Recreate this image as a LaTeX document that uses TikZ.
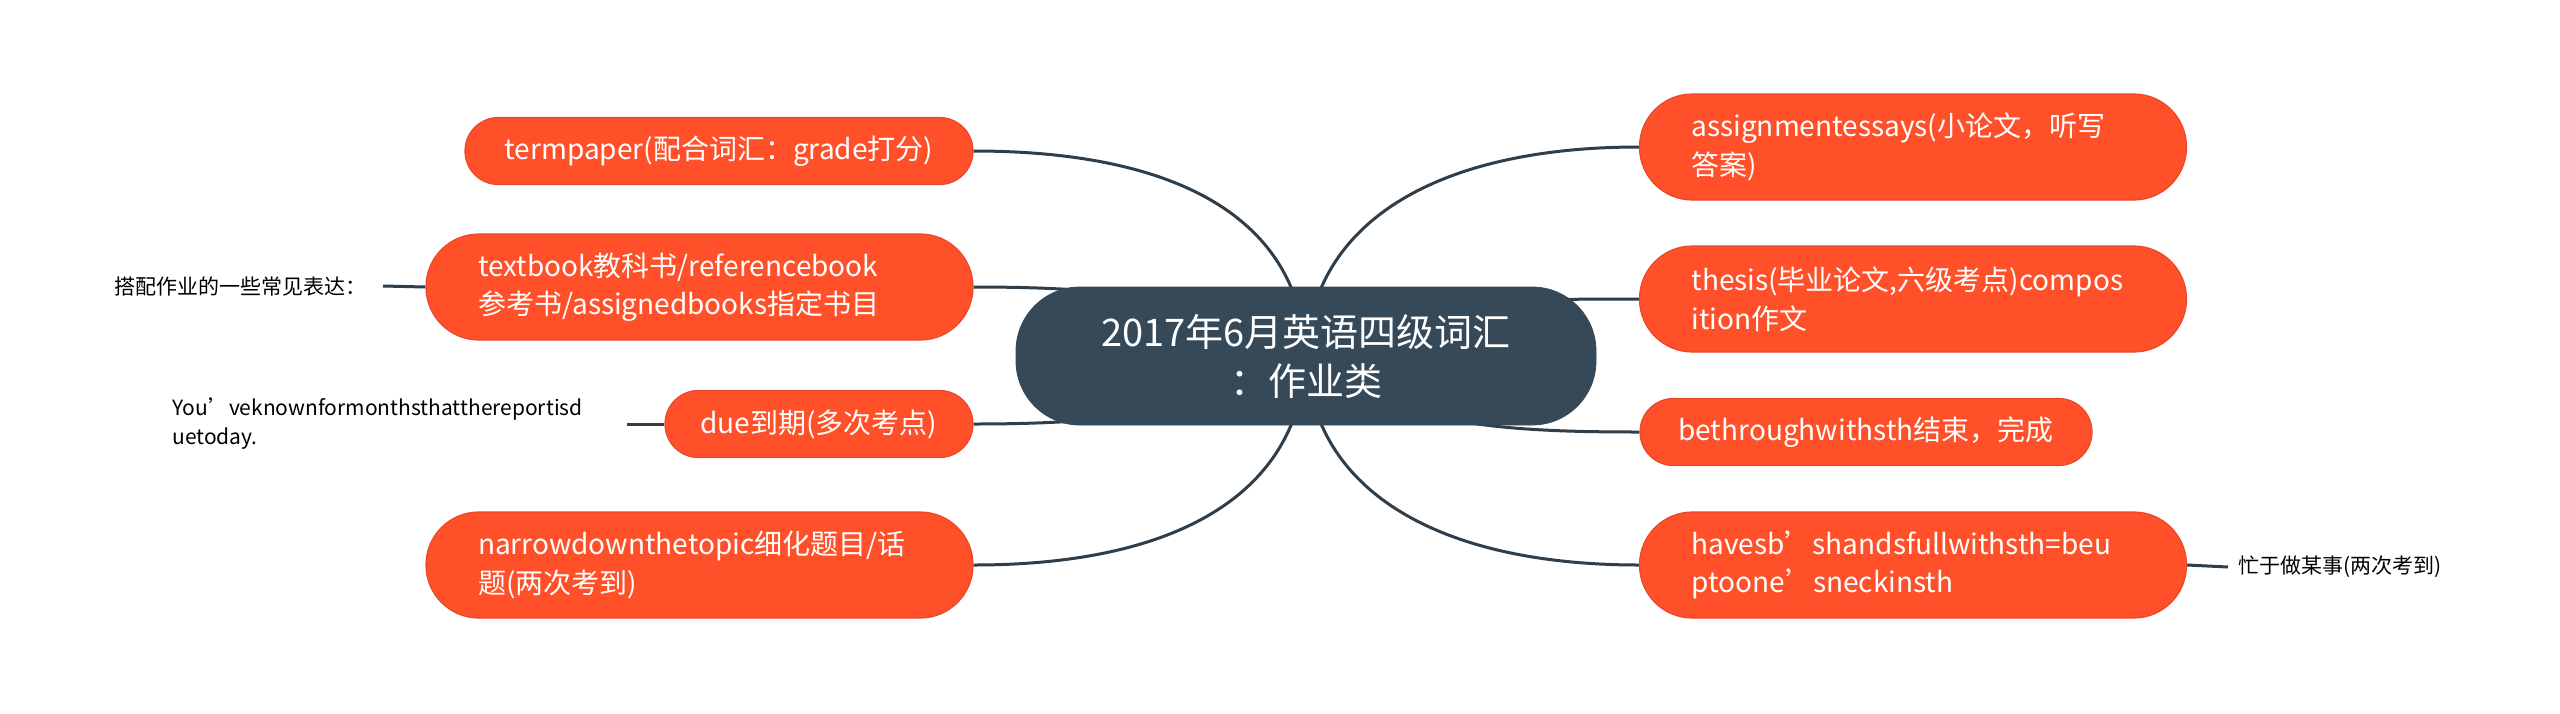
\documentclass[tikz,border=0pt]{standalone}
\usepackage{fontspec}
\setmainfont{Noto Sans CJK SC}
\definecolor{orng}{HTML}{FF5029}
\definecolor{orngdk}{HTML}{E8492B}
\definecolor{slate}{HTML}{364959}
\definecolor{linec}{HTML}{2E3E4B}
\pgfdeclarelayer{bg}
\pgfdeclarelayer{lines}
\pgfsetlayers{bg,lines,main}
\begin{document}
\begin{tikzpicture}[x=0.5pt,y=-0.5pt,
  sub/.style={draw=orngdk, line width=0.6pt, fill=orng, text=white,
    font=\fontsize{14}{19.25}\selectfont, rounded corners=16.7pt,
    minimum height=33.5pt, inner ysep=0pt, inner xsep=0pt},
  subtwo/.style={sub, rounded corners=26.4pt, minimum height=53pt,
    text width=221.5pt, inner xsep=26pt, align=left},
  central/.style={fill=slate, draw=slate, text=white,
    font=\fontsize{19}{24.5}\selectfont, rounded corners=32pt,
    minimum width=290pt, minimum height=69pt, align=center, inner sep=0pt},
  lbl/.style={text=black, font=\fontsize{10.5}{14.5}\selectfont, inner ysep=2pt},
  conn/.style={draw=linec, line width=1.5pt}]
\begin{pgfonlayer}{bg}
\fill[white] (0,0) rectangle (2560,713);
\end{pgfonlayer}
\useasboundingbox (0,0) rectangle (2560,713);

% central
\node[central] (C) at (1306,356) {2017年6月英语四级词汇\\：作业类};

% left children
\node[sub, minimum width=254pt] (tp) at (719,151) {termpaper(配合词汇：grade打分)};
\node[subtwo] (tb) at (699.5,287) {textbook教科书/referencebook\\参考书/assignedbooks指定书目};
\node[sub, minimum width=154pt] (du) at (819,424) {due到期(多次考点)};
\node[subtwo] (nd) at (699.5,565) {narrowdownthetopic细化题目/话\\题(两次考到)};

% right children
\node[subtwo] (as) at (1913,147) {assignmentessays(小论文，听写\\答案)};
\node[subtwo] (th) at (1913,299) {thesis(毕业论文,六级考点)compos\\ition作文};
\node[sub, minimum width=226pt] (bt) at (1866,432) {bethroughwithsth结束，完成};
\node[subtwo] (hv) at (1913,565) {havesb’shandsfullwithsth=beu\\ptoone’sneckinsth};

% labels
\node[lbl, inner xsep=8pt, anchor=east] (l1) at (383,286) {搭配作业的一些常见表达：};
\node[lbl, inner xsep=3pt, text width=224pt, align=left, anchor=west] (l2) at (166,424)
  {You’veknownformonthsthatthereportisd\\uetoday.};
\node[lbl, inner xsep=5pt, anchor=west] (l3) at (2228,567) {忙于做某事(两次考到)};

\begin{pgfonlayer}{lines}
\draw[conn] (C.center) .. controls (1300,220) and (1180,151) .. (tp.east);
\draw[conn] (C.center) .. controls (1230,300) and (1120,287) .. (tb.east);
\draw[conn] (C.center) .. controls (1230,410) and (1120,424) .. (du.east);
\draw[conn] (C.center) .. controls (1300,492) and (1180,565) .. (nd.east);
\draw[conn] (C.center) .. controls (1312,220) and (1440,147) .. (as.west);
\draw[conn] (C.center) .. controls (1380,300) and (1500,299) .. (th.west);
\draw[conn] (C.center) .. controls (1390,425) and (1500,432) .. (bt.west);
\draw[conn] (C.center) .. controls (1312,492) and (1440,565) .. (hv.west);
\draw[conn] (l1.east) -- (tb.west);
\draw[conn] (l2.east) -- (du.west);
\draw[conn] (hv.east) -- (l3.west);
\end{pgfonlayer}
\end{tikzpicture}
\end{document}
